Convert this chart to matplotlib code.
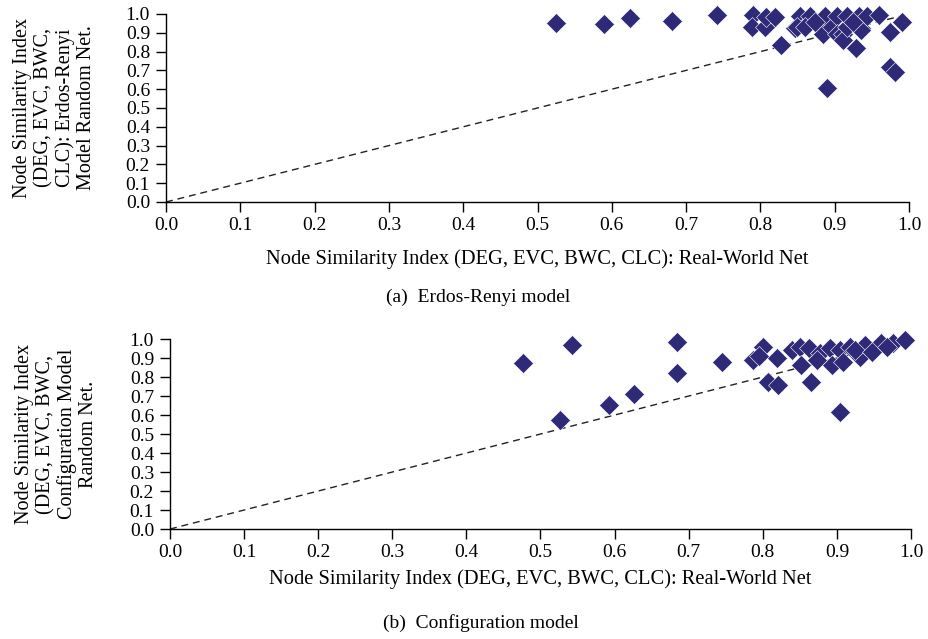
import numpy as np
import matplotlib
matplotlib.use('Agg')
import matplotlib.pyplot as plt

plt.rcParams['font.family'] = ['Liberation Serif', 'DejaVu Serif']

# (a) Erdos-Renyi model: real-world vs random net similarity index
er_x = [0.525, 0.590, 0.625, 0.681, 0.742, 0.790, 0.788, 0.806, 0.808, 0.819,
        0.828, 0.847, 0.853, 0.862, 0.867, 0.849, 0.860, 0.882, 0.887, 0.884,
        0.896, 0.903, 0.903, 0.911, 0.911, 0.916, 0.917, 0.929, 0.933, 0.936,
        0.936, 0.943, 0.959, 0.974, 0.990, 0.974, 0.981, 0.890, 0.874, 0.924]
er_y = [0.95, 0.947, 0.98, 0.961, 0.995, 0.995, 0.929, 0.932, 0.986, 0.986,
        0.835, 0.925, 0.99, 0.941, 0.99, 0.932, 0.932, 0.932, 0.99, 0.894,
        0.932, 0.99, 0.894, 0.894, 0.862, 0.932, 0.99, 0.817, 0.99, 0.928,
        0.915, 0.99, 0.995, 0.906, 0.959, 0.72, 0.693, 0.605, 0.96, 0.96]

# (b) Configuration model
cf_x = [0.476, 0.543, 0.526, 0.592, 0.626, 0.684, 0.684, 0.745, 0.787, 0.800,
        0.807, 0.821, 0.819, 0.839, 0.850, 0.863, 0.852, 0.865, 0.877, 0.891,
        0.893, 0.904, 0.918, 0.908, 0.931, 0.938, 0.904, 0.959, 0.976, 0.992,
        0.795, 0.873, 0.924, 0.948, 0.968]
cf_y = [0.875, 0.968, 0.574, 0.653, 0.71, 0.983, 0.823, 0.877, 0.889, 0.959,
        0.775, 0.758, 0.898, 0.942, 0.959, 0.951, 0.863, 0.775, 0.925, 0.951,
        0.863, 0.942, 0.959, 0.881, 0.907, 0.968, 0.617, 0.977, 0.977, 0.995,
        0.91, 0.89, 0.94, 0.93, 0.96]

ticks = np.round(np.arange(0, 1.01, 0.1), 1)
xlab = 'Node Similarity Index (DEG, EVC, BWC, CLC): Real-World Net'
marker_color = '#2e2a78'

fig = plt.figure(figsize=(9.29, 6.39), dpi=100)
ax_a = fig.add_axes([0.1787, 0.6839, 0.7998, 0.2942])
ax_b = fig.add_axes([0.1830, 0.1721, 0.7976, 0.2973])

panels = [
    (ax_a, er_x, er_y,
     'Node Similarity Index\n(DEG, EVC, BWC,\nCLC): Erdos-Renyi\nModel Random Net.',
     -0.303, -0.150),
    (ax_b, cf_x, cf_y,
     'Node Similarity Index\n(DEG, EVC, BWC,\nConfiguration Model\nRandom Net.',
     -0.263, -0.153),
]

for ax, xs, ys, ylab, xlab_y, ylab_x in panels:
    ax.plot([0, 0.99], [0, 0.99], ls=(0, (5, 3.5)), color='#222222', lw=1.0, zorder=1)
    ax.plot(xs, ys, ls='none', marker='D', ms=10.4, mfc=marker_color,
            mec='#ffffff', mew=0.4, clip_on=False, zorder=2)
    ax.set_xlim(0, 1)
    ax.set_ylim(0, 1)
    ax.set_xticks(ticks)
    ax.set_yticks(ticks)
    ax.set_xticklabels(['%.1f' % t for t in ticks])
    ax.set_yticklabels(['%.1f' % t for t in ticks])
    ax.spines['top'].set_visible(False)
    ax.spines['right'].set_visible(False)
    for s in ('left', 'bottom'):
        ax.spines[s].set_linewidth(1.0)
    ax.tick_params(direction='out', length=7, width=1.0, labelsize=14)
    ax.tick_params(axis='x', pad=3.5)
    ax.tick_params(axis='y', pad=4.5)
    ax.set_xlabel(xlab, fontsize=14.8)
    ax.xaxis.set_label_coords(0.5, xlab_y)
    ax.xaxis.label.set_verticalalignment('center')
    ax.set_ylabel(ylab, fontsize=14.5, linespacing=1.15)
    ax.yaxis.set_label_coords(ylab_x, 0.5)
    ax.yaxis.label.set_verticalalignment('center')

fig.text(478 / 929, 1 - 297 / 639, '(a)  Erdos-Renyi model', ha='center', va='center', fontsize=14)
fig.text(481 / 929, 1 - 623 / 639, '(b)  Configuration model', ha='center', va='center', fontsize=14)

fig.savefig('out.png', dpi=100)
